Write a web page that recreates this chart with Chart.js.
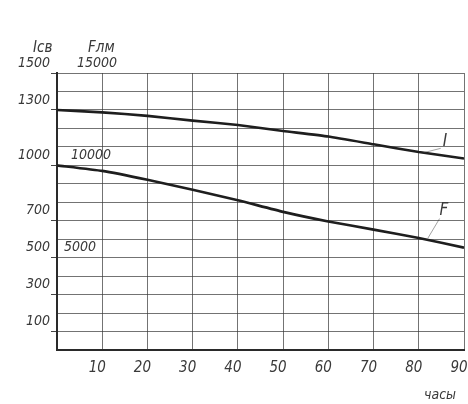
<!DOCTYPE html>
<html>
<head>
<meta charset="utf-8">
<script src="https://cdn.jsdelivr.net/npm/chart.js@4/dist/chart.umd.min.js"></script>
<style>
  html, body { margin: 0; padding: 0; background: #fff; }
  #wrap { width: 468px; height: 404px; position: relative; }
</style>
</head>
<body>
<div id="wrap"><canvas id="c" width="468" height="404"></canvas></div>
<script>
// ---- data ----
const hours = [0, 10, 20, 30, 40, 50, 60, 70, 80, 90];
const currentI = [1300, 1287, 1268, 1242, 1218, 1186, 1156, 1114, 1072, 1037]; // Iсв
const fluxF = [10000, 9700, 9220, 8680, 8110, 7480, 6960, 6520, 6070, 5540];  // Fлм
const iTickLabels = [1500, 1300, 1000, 700, 500, 300, 100];
const fTickLabels = [15000, 10000, 5000];
const xTickLabels = [10, 20, 30, 40, 50, 60, 70, 80, 90];
const axisTitleI = 'Iсв';
const axisTitleF = 'Fлм';
const axisTitleX = 'часы';
const seriesNames = ['I', 'F'];

const FONT = "'DejaVu Sans Condensed', 'Liberation Sans', sans-serif";
const INK = '#3a3a3a';

const extras = {
  id: 'extras',
  afterDraw(chart) {
    const { ctx, scales } = chart;
    const x = scales.x, y = scales.y, yF = scales.yF;
    ctx.save();
    ctx.fillStyle = INK;
    ctx.strokeStyle = INK;
    ctx.font = 'italic 15px ' + FONT;
    ctx.textBaseline = 'middle';
    ctx.textAlign = 'left';
    // axis titles
    ctx.fillText(axisTitleI, 33, 48);
    ctx.fillText(axisTitleF, 88, 48);
    // F scale labels
    ctx.font = 'italic 14px ' + FONT;
    const fx = { 15000: 77, 10000: 71, 5000: 64 };
    fTickLabels.forEach(v => {
      ctx.fillText(String(v), fx[v], yF.getPixelForValue(v) - 10);
    });
    // x axis title
    ctx.font = 'italic 14px ' + FONT;
    ctx.fillText(axisTitleX, 424, 395);
    // series labels with leaders
    ctx.font = 'italic 17px ' + FONT;
    const lx = x.getPixelForValue(85.3);
    const ly = y.getPixelForValue(1130);
    ctx.fillText(seriesNames[0], lx, ly);
    const fxp = x.getPixelForValue(84.6);
    const fyp = yF.getPixelForValue(7550);
    ctx.fillText(seriesNames[1], fxp, fyp);
    ctx.lineWidth = 0.8;
    ctx.strokeStyle = 'rgba(60,60,60,0.6)';
    ctx.beginPath();
    ctx.moveTo(lx - 2, ly + 7);
    ctx.lineTo(x.getPixelForValue(81), y.getPixelForValue(1068));
    ctx.moveTo(fxp, fyp + 8);
    ctx.lineTo(x.getPixelForValue(82), yF.getPixelForValue(6050));
    ctx.stroke();
    ctx.restore();
  }
};

new Chart(document.getElementById('c'), {
  type: 'line',
  data: {
    datasets: [
      {
        label: seriesNames[0],
        data: hours.map((h, i) => ({ x: h, y: currentI[i] })),
        yAxisID: 'y',
        borderColor: '#1e1e1e',
        borderWidth: 2.6,
        pointRadius: 0,
        tension: 0.15,
        fill: false
      },
      {
        label: seriesNames[1],
        data: hours.map((h, i) => ({ x: h, y: fluxF[i] })),
        yAxisID: 'yF',
        borderColor: '#1e1e1e',
        borderWidth: 2.6,
        pointRadius: 0,
        tension: 0.15,
        fill: false
      }
    ]
  },
  options: {
    responsive: false,
    animation: false,
    devicePixelRatio: 1,
    layout: { padding: { top: 73, right: 4, left: 0, bottom: 0 } },
    plugins: { legend: { display: false }, tooltip: { enabled: false } },
    scales: {
      x: {
        type: 'linear',
        min: 0, max: 90,
        afterBuildTicks(s) { s.ticks = [0].concat(xTickLabels).map(v => ({ value: v })); },
        afterFit(s) { s.height = 54; s.paddingLeft = 0; s.paddingRight = 0; },
        grid: { color: 'rgba(55,55,55,0.7)', lineWidth: 1, drawTicks: false },
        border: { color: '#2a2a2a', width: 2 },
        ticks: {
          color: INK,
          font: { family: FONT, size: 15, style: 'italic' },
          padding: 9,
          labelOffset: -5,
          maxRotation: 0,
          autoSkip: false,
          callback: v => xTickLabels.includes(v) ? String(v) : ''
        }
      },
      y: {
        type: 'linear',
        position: 'left',
        min: 0, max: 1500,
        afterBuildTicks(s) {
          const t = [];
          for (let v = 0; v <= 1500; v += 100) t.push({ value: v });
          s.ticks = t;
        },
        afterFit(s) { s.width = 57; s.paddingTop = 0; s.paddingBottom = 0; },
        grid: {
          color: 'rgba(55,55,55,0.7)',
          lineWidth: 1,
          tickLength: 6,
          tickColor: c => iTickLabels.includes(c.tick && c.tick.value) ? '#444' : 'rgba(0,0,0,0)'
        },
        border: { color: '#2a2a2a', width: 2 },
        ticks: {
          color: INK,
          font: { family: FONT, size: 14, style: 'italic' },
          padding: 1,
          labelOffset: -10,
          autoSkip: false,
          callback: v => iTickLabels.includes(v) ? String(v) : ''
        }
      },
      yF: {
        type: 'linear',
        position: 'left',
        display: false,
        min: 0, max: 15000
      }
    }
  },
  plugins: [extras]
});
</script>
</body>
</html>
